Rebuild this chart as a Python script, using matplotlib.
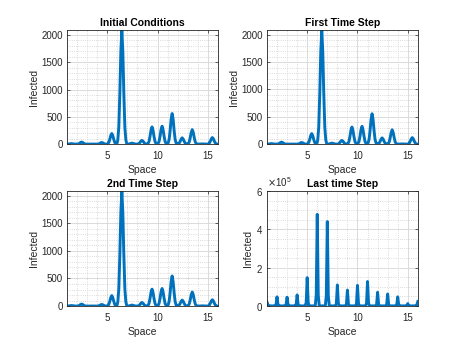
import numpy as np
import matplotlib
matplotlib.use('Agg')
import matplotlib.pyplot as plt
from matplotlib.ticker import MultipleLocator, ScalarFormatter

plt.rcParams['font.family'] = ['Liberation Sans', 'DejaVu Sans']

# sample positions along space
x_top = np.round(np.arange(1.05, 16.0, 0.1), 2)
x_last = np.round(np.arange(1.0, 16.01, 0.1), 2)

# infected counts, one row of 10 samples per unit of space
y_initial = [
    0.4, 1.5, 4.4, 8.1, 10, 8.1, 4.4, 1.5, 0.4, 0,
    1.4, 5.7, 16.7, 30.8, 38, 30.8, 16.7, 5.7, 1.4, 0,
    0.1, 0.5, 1.3, 2.4, 3, 2.4, 1.3, 0.5, 0.1, 0,
    1.1, 4.5, 13.2, 24.3, 30, 24.3, 13.2, 4.5, 1.1, 0,
    7, 29, 86, 158, 195, 158, 86, 29, 7, 0,
    75, 314, 920, 1693, 2090, 1693, 920, 314, 75, 0,
    0.6, 2.7, 7.9, 14.6, 18, 14.6, 7.9, 2.7, 0.6, 0,
    2.4, 10.2, 29.9, 55.1, 68, 55.1, 29.9, 10.2, 2.4, 0,
    11.3, 47, 139, 255, 315, 255, 139, 47, 11.3, 0,
    11.8, 49, 144, 266, 328, 266, 144, 49, 11.8, 0,
    20, 84, 246, 454, 560, 454, 246, 84, 20, 0,
    4.1, 17.3, 50.6, 93.2, 115, 93.2, 50.6, 17.3, 4.1, 0,
    9.5, 40, 117, 215, 265, 215, 117, 40, 9.5, 0,
    0.1, 0.6, 1.8, 3.2, 4, 3.2, 1.8, 0.6, 0.1, 0,
    4.3, 18, 52.8, 97.2, 120, 97.2, 52.8, 18, 4.3, 0,
]
y_first = [
    0.4, 1.5, 4.4, 8.1, 10, 8.1, 4.4, 1.5, 0.4, 0,
    1.3, 5.6, 16.3, 30.0, 37, 30.0, 16.3, 5.6, 1.3, 0,
    0.1, 0.5, 1.3, 2.4, 3, 2.4, 1.3, 0.5, 0.1, 0,
    1.1, 4.5, 13.2, 24.3, 30, 24.3, 13.2, 4.5, 1.1, 0,
    6.9, 29, 85, 156, 193, 156, 85, 29, 6.9, 0,
    75, 313, 919, 1691, 2088, 1691, 919, 313, 75, 0,
    0.6, 2.7, 7.9, 14.6, 18, 14.6, 7.9, 2.7, 0.6, 0,
    2.4, 10, 29.5, 54.3, 67, 54.3, 29.5, 10, 2.4, 0,
    11.2, 46.8, 137, 253, 312, 253, 137, 46.8, 11.2, 0,
    11.7, 48.9, 143, 264, 326, 264, 143, 48.9, 11.7, 0,
    20, 83.4, 245, 450, 556, 450, 245, 83.4, 20, 0,
    4.1, 17.1, 50.2, 92.3, 114, 92.3, 50.2, 17.1, 4.1, 0,
    9.4, 39.3, 115, 212, 262, 212, 115, 39.3, 9.4, 0,
    0.1, 0.6, 1.8, 3.2, 4, 3.2, 1.8, 0.6, 0.1, 0,
    4.3, 17.9, 52.4, 96.4, 119, 96.4, 52.4, 17.9, 4.3, 0,
]
y_second = [
    0.4, 1.5, 4.4, 8.1, 10, 8.1, 4.4, 1.5, 0.4, 0,
    1.3, 5.4, 15.8, 29.2, 36, 29.2, 15.8, 5.4, 1.3, 0,
    0.1, 0.5, 1.3, 2.4, 3, 2.4, 1.3, 0.5, 0.1, 0,
    1.0, 4.4, 12.8, 23.5, 29, 23.5, 12.8, 4.4, 1.0, 0,
    6.8, 28.5, 83.6, 154, 190, 154, 83.6, 28.5, 6.8, 0,
    75, 313, 917, 1689, 2085, 1689, 917, 313, 75, 0,
    0.6, 2.7, 7.9, 14.6, 18, 14.6, 7.9, 2.7, 0.6, 0,
    2.3, 9.6, 28.2, 51.8, 64, 51.8, 28.2, 9.6, 2.3, 0,
    11, 45.9, 135, 248, 306, 248, 135, 45.9, 11, 0,
    11.4, 47.7, 140, 258, 318, 258, 140, 47.7, 11.4, 0,
    19.6, 81.8, 240, 441, 545, 441, 240, 81.8, 19.6, 0,
    3.9, 16.2, 47.5, 87.5, 108, 87.5, 47.5, 16.2, 3.9, 0,
    9.1, 38.1, 112, 206, 254, 206, 112, 38.1, 9.1, 0,
    0.1, 0.6, 1.8, 3.2, 4, 3.2, 1.8, 0.6, 0.1, 0,
    4.1, 17.1, 50.2, 92.3, 114, 92.3, 50.2, 17.1, 4.1, 0,
]
# last time step, in units of 1e5
y_last_e5 = [
    0.22, 0.06, 0.01, 0.01, 0.01, 0.01, 0.01, 0.01, 0.01, 0.06,
    0.48, 0.06, 0.01, 0.01, 0.01, 0.01, 0.01, 0.01, 0.01, 0.06,
    0.46, 0.06, 0.01, 0.01, 0.01, 0.01, 0.01, 0.01, 0.01, 0.07,
    0.58, 0.07, 0.01, 0.01, 0.01, 0.01, 0.01, 0.01, 0.01, 0.18,
    1.48, 0.18, 0.01, 0.01, 0.01, 0.01, 0.01, 0.01, 0.01, 0.57,
    4.78, 0.57, 0.01, 0.01, 0.01, 0.01, 0.01, 0.01, 0.01, 0.53,
    4.40, 0.53, 0.01, 0.01, 0.01, 0.01, 0.01, 0.01, 0.01, 0.13,
    1.10, 0.13, 0.01, 0.01, 0.01, 0.01, 0.01, 0.01, 0.01, 0.10,
    0.83, 0.10, 0.01, 0.01, 0.01, 0.01, 0.01, 0.01, 0.01, 0.13,
    1.08, 0.13, 0.01, 0.01, 0.01, 0.01, 0.01, 0.01, 0.01, 0.15,
    1.28, 0.15, 0.01, 0.01, 0.01, 0.01, 0.01, 0.01, 0.01, 0.09,
    0.72, 0.09, 0.01, 0.01, 0.01, 0.01, 0.01, 0.01, 0.01, 0.08,
    0.63, 0.08, 0.01, 0.01, 0.01, 0.01, 0.01, 0.01, 0.01, 0.06,
    0.48, 0.06, 0.01, 0.01, 0.01, 0.01, 0.01, 0.01, 0.01, 0.02,
    0.13, 0.02, 0.01, 0.01, 0.01, 0.01, 0.01, 0.01, 0.01, 0.06,
    0.24,
]
y_last = np.array(y_last_e5) * 1e5

titles = ['Initial Conditions', 'First Time Step', '2nd Time Step', 'Last time Step']

blue = '#0072BD'
dark = '#262626'

fig = plt.figure(figsize=(4.7, 3.49), dpi=100)
boxes = [
    [0.1426, 0.587, 0.321, 0.327],
    [0.568, 0.587, 0.321, 0.327],
    [0.1426, 0.123, 0.321, 0.330],
    [0.568, 0.123, 0.321, 0.330],
]
series = [(x_top, y_initial), (x_top, y_first), (x_top, y_second), (x_last, y_last)]

for i, (box, (xs, ys), title) in enumerate(zip(boxes, series, titles)):
    ax = fig.add_axes(box)
    ax.plot(xs, ys, color=blue, linewidth=2.1)
    ax.set_xlim(1, 16)
    ax.xaxis.set_major_locator(MultipleLocator(5))
    ax.xaxis.set_minor_locator(MultipleLocator(1))
    if i < 3:
        ax.set_ylim(0, max(ys))
        ax.yaxis.set_major_locator(MultipleLocator(500))
        ax.yaxis.set_minor_locator(MultipleLocator(100))
    else:
        ax.set_ylim(0, 6e5)
        ax.yaxis.set_major_locator(MultipleLocator(2e5))
        ax.yaxis.set_minor_locator(MultipleLocator(0.5e5))
        fmt = ScalarFormatter(useMathText=True)
        fmt.set_powerlimits((0, 0))
        ax.yaxis.set_major_formatter(fmt)
        ax.yaxis.get_offset_text().set_fontsize(7)
        ax.yaxis.get_offset_text().set_color(dark)
    ax.grid(True, which='major', color='#d6d6d6', linewidth=0.6)
    ax.grid(True, which='minor', color='#cfcfcf', linewidth=0.6, linestyle=':')
    ax.set_axisbelow(True)
    for s in ax.spines.values():
        s.set_color(dark)
        s.set_linewidth(0.6)
    ax.tick_params(which='both', direction='in', top=True, right=True,
                   colors=dark, labelsize=7, width=0.5)
    ax.tick_params(which='major', length=2.5, pad=3)
    ax.tick_params(which='minor', length=0)
    ax.tick_params(axis='x', pad=5)
    ax.set_title(title, fontsize=7.5, fontweight='bold', color='black', pad=3)
    ax.set_xlabel('Space', fontsize=7.5, color=dark, labelpad=3)
    ax.set_ylabel('Infected', fontsize=7.5, color=dark, labelpad=2)

fig.savefig('out.png', dpi=100)
